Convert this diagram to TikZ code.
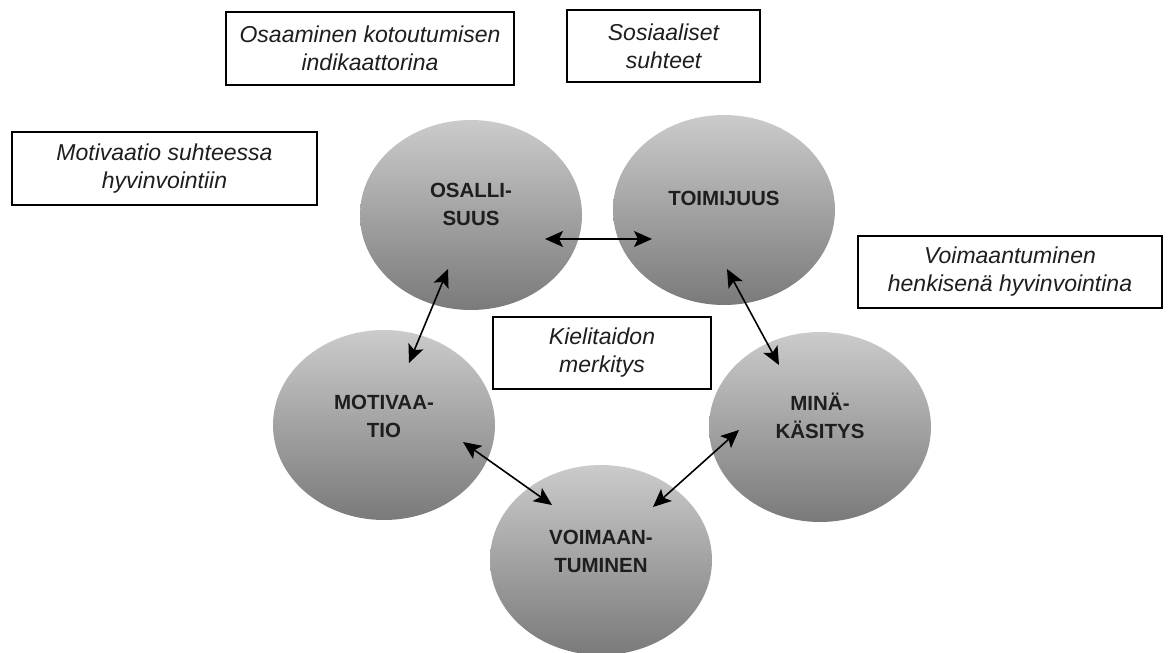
\documentclass[tikz,border=0pt]{standalone}
\usepackage{fontspec}
\setmainfont{Liberation Sans}
\usetikzlibrary{shapes.geometric,arrows.meta,calc}
\definecolor{bubtop}{HTML}{CBCBCB}
\definecolor{bubbot}{HTML}{7A7A7A}
\definecolor{txt}{HTML}{1E1E1E}
\begin{document}
\begin{tikzpicture}[x=1pt,y=-1pt,
  bub/.style={ellipse, minimum width=222pt, minimum height=190pt, inner sep=0pt,
              top color=bubtop, bottom color=bubbot, draw=none},
  lab/.style={font=\bfseries\fontsize{20.5}{28}\selectfont, align=center, text=txt, inner sep=0pt},
  tbox/.style={draw=black, line width=1.4pt, font=\itshape\fontsize{23}{28}\selectfont,
               align=center, text=txt, inner sep=0pt},
  arr/.style={line width=1.6pt, {Stealth[length=18pt,width=16pt,inset=4pt]}-{Stealth[length=18pt,width=16pt,inset=4pt]}}]
\useasboundingbox (0,0) rectangle (1168,653);

% bubbles
\node[bub] (osa) at (471,215) {};
\node[bub] (toi) at (724,210) {};
\node[bub] (mot) at (384,425) {};
\node[bub] (min) at (820,427) {};
\node[bub] (voi) at (601,560) {};

\node[lab] (osaT) at ($(osa)+(0,-11)$) {OSALLI-\\SUUS};
\node[lab] (toiT) at ($(toi)+(0,-12)$) {TOIMIJUUS};
\node[lab] (motT) at ($(mot)+(0,-9)$) {MOTIVAA-\\TIO};
\node[lab] (minT) at ($(min)+(0,-11)$) {MINÄ-\\KÄSITYS};
\node[lab] (voiT) at ($(voi)+(0,-9)$) {VOIMAAN-\\TUMINEN};

% text boxes
\node[tbox, minimum width=288pt, minimum height=73pt] (b1) at (370,48.5) {Osaaminen kotoutumisen\\indikaattorina};
\node[tbox, minimum width=193pt, minimum height=72pt] (b2) at (663.5,46) {Sosiaaliset\\suhteet};
\node[tbox, minimum width=305pt, minimum height=73pt] (b3) at (164.5,168.5) {Motivaatio suhteessa\\hyvinvointiin};
\node[tbox, minimum width=218pt, minimum height=72pt] (b4) at (602,353) {Kielitaidon\\merkitys};
\node[tbox, minimum width=304pt, minimum height=72pt] (b5) at (1010,272) {Voimaantuminen\\henkisenä hyvinvointina};

% connector end points
\coordinate (osaE) at ($(osa)+(74,24)$);
\coordinate (toiW) at ($(toi)+(-72,29)$);
\coordinate (osaS) at ($(osa)+(-23,54)$);
\coordinate (motN) at ($(mot)+(25,-62)$);
\coordinate (toiS) at ($(toi)+(3,59)$);
\coordinate (minN) at ($(min)+(-41,-62)$);
\coordinate (motE) at ($(mot)+(79,17)$);
\coordinate (voiW) at ($(voi)+(-49,-55)$);
\coordinate (minW) at ($(min)+(-81,3)$);
\coordinate (voiE) at ($(voi)+(52,-53)$);

\draw[arr] (osaE) -- (toiW);
\draw[arr] (osaS) -- (motN);
\draw[arr] (toiS) -- (minN);
\draw[arr] (motE) -- (voiW);
\draw[arr] (minW) -- (voiE);
\end{tikzpicture}
\end{document}
